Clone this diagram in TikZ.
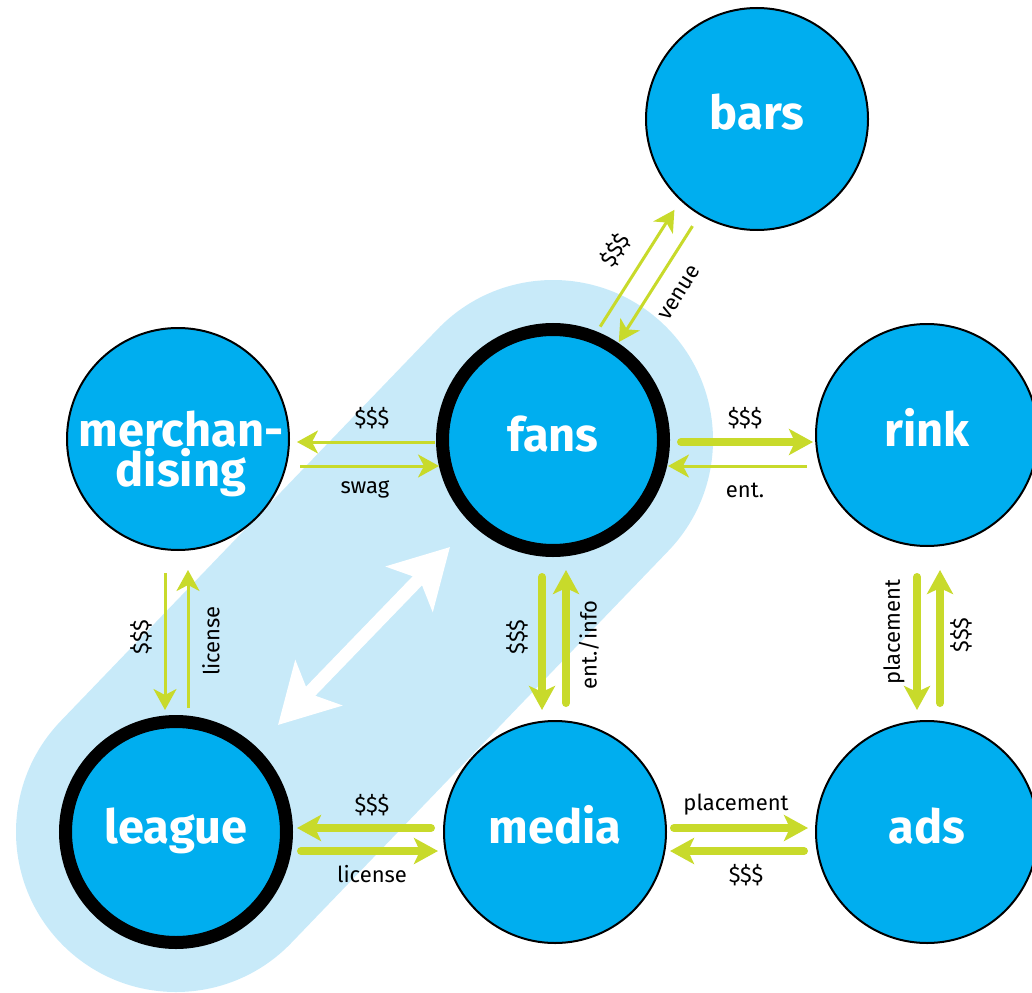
\documentclass[tikz,border=0pt]{standalone}
\usepackage{fontspec}
\setmainfont{Fira Sans}
\usetikzlibrary{arrows.meta,calc}
\definecolor{bubbleblue}{HTML}{00AEEF}
\definecolor{bandblue}{HTML}{C8EAF9}
\definecolor{flowgreen}{HTML}{C8DA2B}
\pgfdeclarelayer{background}
\pgfsetlayers{background,main}
\begin{document}
\begin{tikzpicture}[x=1pt,y=-1pt,
  bubble/.style={circle, draw=black, line width=2pt, fill=bubbleblue,
    minimum size=222pt, inner sep=0pt, text=white,
    font=\bfseries\fontsize{47}{47}\selectfont, text height=22pt, text depth=0pt},
  keybubble/.style={bubble, line width=13pt, minimum size=221pt},
  bubbletext/.style={text=white, inner sep=0pt, align=center,
    font=\bfseries\fontsize{47}{38}\selectfont},
  thinflow/.style={draw=flowgreen, line width=3pt,
    -{Stealth[length=21pt,width=23pt,inset=6pt]}},
  thickflow/.style={draw=flowgreen, line width=8pt, line cap=round,
    -{Stealth[length=24pt,width=26pt,inset=6pt]}},
  flowlabel/.style={font=\fontsize{22}{22}\selectfont, text=black, inner sep=0pt},
  bigarrow/.style={draw=white, line width=13pt,
    {Stealth[length=58pt,width=64pt,inset=14pt]}-{Stealth[length=58pt,width=64pt,inset=14pt]}}
]
\useasboundingbox (0,0) rectangle (1032,992);
\clip (0,0) rectangle (1032,992);

% the seven parties
\node[bubble] (bars) at (757,119) {bars};
\node[bubble] (merch) at (178,439) {};
\node[bubbletext] (merchtext) at (181,454) {merchan-\\dising};
\node[keybubble] (fans) at (553,440) {fans};
\node[bubble] (rink) at (927,435) {rink};
\node[keybubble] (league) at (176,832) {league};
\node[bubble] (media) at (555,832) {media};
\node[bubble] (ads) at (927,832) {ads};

% band tying league and fans together
\begin{pgfonlayer}{background}
  \draw[bandblue, line width=320pt, line cap=round] (league.center) -- (fans.center);
\end{pgfonlayer}
\coordinate (wlow) at (278,725);
\coordinate (whigh) at (450,547);
\draw[bigarrow] (wlow) -- (whigh);

% fans <-> bars
\draw[thinflow] ($(fans.center)!121pt!(bars.center)!21pt!90:(bars.center)$)
  -- ($(bars.center)!121pt!(fans.center)!21pt!-90:(fans.center)$);
\draw[thinflow] ($(bars.center)!125pt!(fans.center)!3pt!90:(fans.center)$)
  -- ($(fans.center)!118pt!(bars.center)!3pt!-90:(bars.center)$);
\node[flowlabel, rotate=58] (lb1) at (615,250) {\$\$\$};
\node[flowlabel, rotate=58] (lb2) at (680,293) {venue};

% merchandising <-> fans
\draw[thinflow] ($(fans.west|-0,442)+(-1,0)$) -- ($(merch.east|-0,442)+(7,0)$);
\draw[thinflow] ($(merch.east|-0,466)+(10,0)$) -- ($(fans.west|-0,466)+(3,0)$);
\node[flowlabel] (lmf1) at (372,418) {\$\$\$};
\node[flowlabel] (lmf2) at (365,489) {swag};

% fans <-> rink
\draw[thickflow] ($(fans.east|-0,442)+(11,0)$) -- ($(rink.west|-0,442)+(-2,0)$);
\draw[thinflow] ($(rink.west|-0,466)+(-8,0)$) -- ($(fans.east|-0,466)+(-2,0)$);
\node[flowlabel] (lfr1) at (745,418) {\$\$\$};
\node[flowlabel] (lfr2) at (745,490) {ent.};

% merchandising <-> league
\draw[thinflow] ($(merch.south-|165,0)+(0,22)$) -- ($(league.north-|165,0)+(0,-5)$);
\draw[thinflow] ($(league.north-|188,0)+(0,-7)$) -- ($(merch.south-|188,0)+(0,19)$);
\node[flowlabel, rotate=90] (lml1) at (141,637) {\$\$\$};
\node[flowlabel, rotate=90] (lml2) at (211,641) {license};

% fans <-> media
\draw[thickflow] ($(fans.south-|542,0)+(0,20)$) -- ($(media.north-|542,0)+(0,-10)$);
\draw[thickflow] ($(media.north-|566,0)+(0,-17)$) -- ($(fans.south-|566,0)+(0,13)$);
\node[flowlabel, rotate=90] (lfm1) at (517,637) {\$\$\$};
\node[flowlabel, rotate=90] (lfm2) at (589,645) {ent./info};

% rink <-> ads
\draw[thickflow] ($(rink.south-|917,0)+(0,30)$) -- ($(ads.north-|917,0)+(0,-10)$);
\draw[thickflow] ($(ads.north-|940,0)+(0,-17)$) -- ($(rink.south-|940,0)+(0,23)$);
\node[flowlabel, rotate=90] (lra1) at (894,632) {placement};
\node[flowlabel, rotate=90] (lra2) at (961,635) {\$\$\$};

% league <-> media
\draw[thickflow] ($(media.west|-0,828)+(-12,0)$) -- ($(league.east|-0,828)+(4,0)$);
\draw[thickflow] ($(league.east|-0,851)+(8,0)$) -- ($(media.west|-0,851)+(-5,0)$);
\node[flowlabel] (llm1) at (372,805) {\$\$\$};
\node[flowlabel] (llm2) at (372,874) {license};

% media <-> ads
\draw[thickflow] ($(media.east|-0,828)+(7,0)$) -- ($(ads.west|-0,828)+(-7,0)$);
\draw[thickflow] ($(ads.west|-0,851)+(-11,0)$) -- ($(media.east|-0,851)+(3,0)$);
\node[flowlabel] (lma1) at (736,805) {placement};
\node[flowlabel] (lma2) at (746,875) {\$\$\$};
\end{tikzpicture}
\end{document}
